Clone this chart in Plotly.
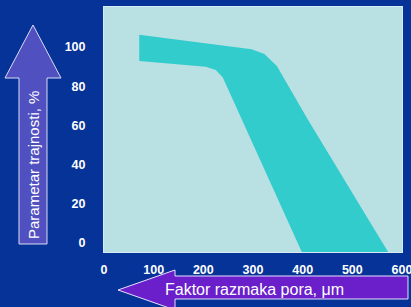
import plotly.graph_objects as go

# Band (upper and lower envelope)
upper_x = [71, 297, 323, 348, 411, 573]
upper_y = [106.3, 98.8, 96.4, 90.3, 62.8, -5]
lower_x = [71, 205, 225, 239, 277, 399]
lower_y = [92.9, 89.9, 88.3, 84.5, 62.8, -5]

x_ticks = [0, 100, 200, 300, 400, 500, 600]
y_ticks = [0, 20, 40, 60, 80, 100]

y_title = "Parametar trajnosti, %"
x_title = "Faktor razmaka pora, μm"

W, H = 411, 307
ML, MR, MT, MB = 104, 9, 7, 55
PW, PH = W - ML - MR, H - MT - MB


def px(x, y):
    return (x - ML) / PW, (H - MB - y) / PH


def path(points):
    s = ""
    for i, (x, y) in enumerate(points):
        a, b = px(x, y)
        s += ("M" if i == 0 else "L") + f"{a:.4f},{b:.4f} "
    return s + "Z"


poly_x = upper_x + lower_x[::-1]
poly_y = upper_y + lower_y[::-1]

fig = go.Figure()
fig.add_trace(go.Scatter(x=poly_x, y=poly_y, fill="toself", mode="lines",
                         line=dict(width=0), fillcolor="#33cccc",
                         hoverinfo="skip", showlegend=False))

v_arrow = [(33, 25), (61, 78), (47, 78), (47, 244), (19, 244), (19, 78), (5, 78)]
h_arrow = [(118, 290), (175, 270), (175, 276), (408, 276), (408, 299), (175, 299), (175, 310)]

fig.add_shape(type="path", xref="paper", yref="paper", path=path(v_arrow),
              fillcolor="#5050c0", line=dict(color="#dcdcf5", width=1), layer="above")
fig.add_shape(type="path", xref="paper", yref="paper", path=path(h_arrow),
              fillcolor="#6a1fcb", line=dict(color="#e8e0ff", width=1), layer="above")

ax, ay = px(33, 165)
fig.add_annotation(x=ax, y=ay, xref="paper", yref="paper", text=y_title, textangle=-90,
                   xanchor="center", yanchor="middle",
                   showarrow=False, font=dict(family="Liberation Sans", size=15, color="white"))
bx, by = px(254, 289)
fig.add_annotation(x=bx, y=by, xref="paper", yref="paper", text=x_title,
                   xanchor="center", yanchor="middle",
                   showarrow=False, font=dict(family="Liberation Sans", size=16, color="white"))

tf = dict(family="Liberation Sans", size=12.5, color="white", weight="bold")
fig.update_layout(
    width=W, height=H,
    margin=dict(l=ML, r=MR, t=MT, b=MB, autoexpand=False),
    paper_bgcolor="#063398",
    plot_bgcolor="#b9e0e3",
    xaxis=dict(range=[0, 600], tickvals=x_ticks, showgrid=False, zeroline=False,
               showline=True, mirror=True, linecolor="#d5ecf2", linewidth=1,
               ticks="", ticklabelstandoff=6, ticklabeloverflow="allow",
               automargin=False, tickfont=tf),
    yaxis=dict(range=[-4.6, 120.4], tickvals=y_ticks, showgrid=False, zeroline=False,
               showline=True, mirror=True, linecolor="#d5ecf2", linewidth=1,
               ticks="", ticklabelstandoff=15, automargin=False, tickfont=tf),
)

fig.write_html("out.html", config={"displayModeBar": False},
               post_script="document.body.style.margin='0';document.body.style.overflow='hidden';")
